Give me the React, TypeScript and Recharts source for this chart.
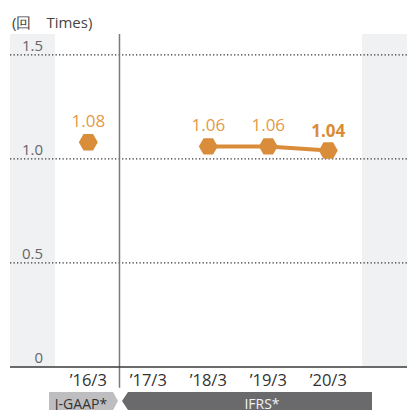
import { LineChart, Line, XAxis, YAxis, ReferenceArea, ReferenceLine, LabelList } from "recharts";

const categories = ["\u201916/3", "\u201917/3", "\u201918/3", "\u201919/3", "\u201920/3"];
const ratio: (number | null)[] = [1.08, null, 1.06, 1.06, 1.04];
const yTicks = [0, 0.5, 1.0, 1.5];
const yTickLabels = ["0", "0.5", "1.0", "1.5"];

const data = categories.map((name, i) => ({ idx: i, name, value: ratio[i] }));

const ORANGE = "#D98C3A";
const LABEL = "#E39A4A";
const FONT = "'Open Sans', 'Noto Sans', sans-serif";

const Hexagon = (props: any) => {
  const { cx, cy, payload } = props;
  if (payload?.value == null || cy == null) return null;
  const r = 9.5;
  const pts = [0, 60, 120, 180, 240, 300]
    .map((a) => {
      const t = (a * Math.PI) / 180;
      return `${cx + r * Math.cos(t)},${cy + r * Math.sin(t)}`;
    })
    .join(" ");
  return <polygon points={pts} fill={ORANGE} />;
};

const ValueLabel = (props: any) => {
  const { x, y, value, index } = props;
  if (value == null) return null;
  const last = index === categories.length - 1;
  return (
    <text
      x={x}
      y={y - (last ? 14 : 15)}
      textAnchor="middle"
      fontSize={17}
      fontWeight={last ? 700 : 400}
      fill={last ? "#DB8B36" : LABEL}
      fontFamily={FONT}
    >
      {Number(value).toFixed(2)}
    </text>
  );
};

// y tick labels drawn as reference-line labels so they sit above the grey band
const tickLabel = (i: number) => (props: any) => {
  const vb = props.viewBox || {};
  return (
    <text x={vb.x + 33} y={vb.y - 4} textAnchor="end" fontSize={15} fill="#666" fontFamily={FONT}>
      {yTickLabels[i]}
    </text>
  );
};

export default function App() {
  return (
    <div style={{ position: "absolute", left: 0, top: 0, width: 407, height: 410, background: "#fff", overflow: "hidden" }}>
      <LineChart width={407} height={410} data={data} margin={{ top: 34, right: 0, bottom: 13, left: 10 }}>
        <XAxis
          dataKey="idx"
          type="number"
          domain={[-1.305, 5.312]}
          allowDataOverflow
          ticks={[0, 1, 2, 3, 4]}
          tickFormatter={(v) => categories[v]}
          tick={{ fontSize: 16.5, fill: "#333", fontFamily: FONT }}
          tickLine={false}
          axisLine={{ stroke: "#3a3a3a", strokeWidth: 1.5 }}
          interval={0}
          tickMargin={1}
          height={30}
        />
        <YAxis domain={[0, 1.6]} ticks={yTicks} width={0} axisLine={false} tickLine={false} tick={false} allowDataOverflow />
        <ReferenceArea x1={-1.305} x2={-0.555} y1={0} y2={1.6} fill="#F0F1F3" fillOpacity={1} stroke="none" />
        <ReferenceArea x1={4.562} x2={5.312} y1={0} y2={1.6} fill="#F0F1F3" fillOpacity={1} stroke="none" />
        {yTicks.map((t, i) => (
          <ReferenceLine
            key={t}
            y={t}
            stroke={i === 0 ? "none" : "#333"}
            strokeWidth={1.3}
            strokeDasharray="1.3 2.2"
            label={tickLabel(i)}
          />
        ))}
        <ReferenceLine
          segment={[
            { x: 0.52, y: 1.6 },
            { x: 0.52, y: -0.1 },
          ]}
          stroke="#7a7a7a"
          strokeWidth={1.5}
          ifOverflow="visible"
        />
        <Line
          dataKey="value"
          stroke={ORANGE}
          strokeWidth={4}
          dot={<Hexagon />}
          activeDot={false}
          connectNulls={false}
          isAnimationActive={false}
        >
          <LabelList dataKey="value" content={<ValueLabel />} />
        </Line>
      </LineChart>
      <svg width={407} height={410} style={{ position: "absolute", left: 0, top: 0, pointerEvents: "none" }}>
        <text x={12} y={28} fontSize={15} fill="#444" fontFamily={FONT}>
          (回　Times)
        </text>
        <polygon points="49,392 113,392 118,401 113,410 49,410" fill="#BEBEC0" />
        <text x={81} y={409} textAnchor="middle" fontSize={14} fill="#333" fontFamily={FONT}>
          J-GAAP*
        </text>
        <polygon points="122,401 128,392 372,392 372,410 128,410" fill="#6A6A6C" />
        <text x={262} y={409} textAnchor="middle" fontSize={14} fill="#f2f2f2" fontFamily={FONT}>
          IFRS*
        </text>
      </svg>
    </div>
  );
}
